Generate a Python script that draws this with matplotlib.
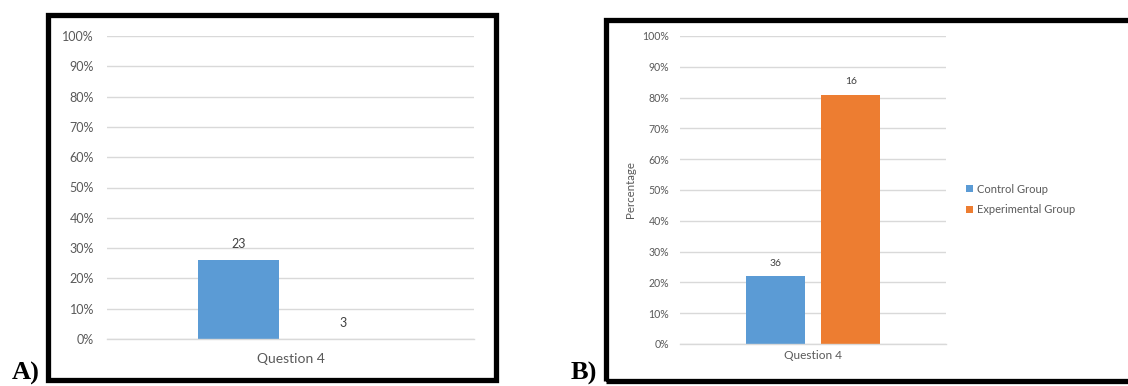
import matplotlib
matplotlib.use("Agg")
import matplotlib.pyplot as plt
from matplotlib.patches import Rectangle
from matplotlib.ticker import PercentFormatter

W, H = 1128, 386

category = "Question 4"
series_names = ["Control Group", "Experimental Group"]
series_colors = ["#5B9BD5", "#ED7D31"]

# panel A: share per group, with the counts written above the bars
share_a = [0.26, 0.0]
count_a = ["23", "3"]

# panel B
share_b = [0.22, 0.81]
count_b = ["36", "16"]

y_ticks = [i / 10 for i in range(11)]

TICK_GRAY = "#595959"
GRID_GRAY = "#D9D9D9"
FONT = ["Lato", "DejaVu Sans"]


def px_box(left, top, right, bottom):
    """Pixel box (origin top-left) -> figure fraction rect."""
    return [left / W, 1 - bottom / H, (right - left) / W, (bottom - top) / H]


def draw_frame(fig, left, top, right, bottom, lw=3.8):
    x0, y0, w, h = px_box(left, top, right, bottom)
    fig.patches.append(Rectangle((x0, y0), w, h, transform=fig.transFigure,
                                 fill=False, edgecolor="black", linewidth=lw,
                                 joinstyle="miter", clip_on=False))


def grouped_bars(ax, shares, counts, tick_size, label_size, tick_pad, cat_pad, label_pad):
    offsets = [-0.142, 0.142]
    bars = []
    for off, val, col, name in zip(offsets, shares, series_colors, series_names):
        b = ax.bar(off, val, width=0.222, color=col, label=name, zorder=2)
        bars.append(b)
    for b, txt in zip(bars, counts):
        ax.bar_label(b, labels=[txt], padding=label_pad, fontsize=label_size,
                     color="#404040", family=FONT)
    ax.set_xlim(-0.5, 0.5)
    ax.set_ylim(0, 1)
    ax.set_yticks(y_ticks)
    ax.yaxis.set_major_formatter(PercentFormatter(1.0, decimals=0))
    ax.set_xticks([0])
    ax.set_xticklabels([category])
    ax.tick_params(axis="y", length=0, pad=tick_pad, labelsize=tick_size, labelcolor=TICK_GRAY)
    ax.tick_params(axis="x", length=0, pad=cat_pad, labelsize=tick_size + 1, labelcolor=TICK_GRAY)
    for lab in ax.get_xticklabels() + ax.get_yticklabels():
        lab.set_family(FONT)
    ax.grid(axis="y", color=GRID_GRAY, linewidth=1.0, zorder=0)
    ax.set_axisbelow(True)
    for side in ["top", "right", "left"]:
        ax.spines[side].set_visible(False)
    ax.spines["bottom"].set_color(GRID_GRAY)
    ax.spines["bottom"].set_linewidth(1.0)
    return bars


fig = plt.figure(figsize=(W / 100, H / 100), dpi=100)
fig.patch.set_facecolor("white")

# left chart
ax_a = fig.add_axes(px_box(107, 36, 474, 339))
grouped_bars(ax_a, share_a, count_a, tick_size=9, label_size=9,
             tick_pad=9.4, cat_pad=10, label_pad=7)
draw_frame(fig, 47.5, 14.8, 496, 379.5)
fig.text(12 / W, 1 - 380 / H, "A)", family=["Liberation Serif", "DejaVu Serif"],
         fontweight="bold", fontsize=19, va="baseline", ha="left")

# right chart
ax_b = fig.add_axes(px_box(680, 36, 946, 344))
grouped_bars(ax_b, share_b, count_b, tick_size=7.6, label_size=7.5,
             tick_pad=7.7, cat_pad=4.5, label_pad=6)
ax_b.set_ylabel("Percentage", fontsize=8.3, color=TICK_GRAY, family=FONT)
ax_b.yaxis.set_label_coords((636 - 680) / 266, 0.5)
ax_b.legend(loc="center left", bbox_to_anchor=(966 / W, 1 - 199.5 / H),
            bbox_transform=fig.transFigure, frameon=False,
            handlelength=0.6, handleheight=0.6, handletextpad=0.35,
            labelspacing=0.85, borderaxespad=0, borderpad=0,
            labelcolor=TICK_GRAY, prop={"family": FONT, "size": 8})
draw_frame(fig, 605.5, 19.5, 1140, 380.5)
fig.text(571 / W, 1 - 380 / H, "B)", family=["Liberation Serif", "DejaVu Serif"],
         fontweight="bold", fontsize=19, va="baseline", ha="left")

fig.savefig("out.png", dpi=100, facecolor="white")
